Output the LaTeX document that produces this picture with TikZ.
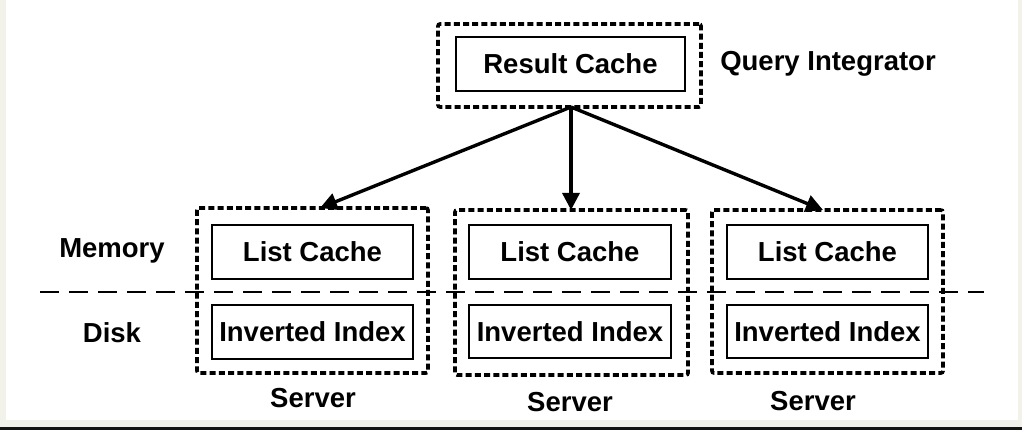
\documentclass[tikz,border=0pt]{standalone}
\usepackage{fontspec}
\setmainfont{Liberation Sans}
\usetikzlibrary{arrows.meta}
\definecolor{framebeige}{HTML}{F2F1EA}
\definecolor{barblack}{HTML}{141414}
\begin{document}
\begin{tikzpicture}[x=1pt,y=-1pt,
  lbl/.style={font=\fontsize{27.5}{30}\selectfont\bfseries, inner sep=0pt},
  solidbox/.style={draw, line width=2.5pt, inner sep=0pt, font=\fontsize{27.5}{30}\selectfont\bfseries},
  dotbox/.style={draw, line width=3.6pt, dash pattern=on 6pt off 3.2pt, inner sep=0pt, rounded corners=2pt},
  arr/.style={line width=3.4pt, -{Triangle[length=17pt,width=17pt]}},
  sep/.style={line width=2.2pt, dash pattern=on 19pt off 10pt}
]
% background and frame
\fill[framebeige] (0,0) rectangle (1022,430);
\fill[white] (6,0) rectangle (1018,420);
\fill[barblack] (0,426.5) rectangle (1022,430);
\useasboundingbox (0,0) rectangle (1022,430);

% separator line
\coordinate (sepL) at (40,292);
\coordinate (sepR) at (984,292);
\draw[sep] (sepL) -- (sepR);

% Query integrator
\node[dotbox, minimum width=263pt, minimum height=83pt] (rcouter) at (569.5,65.5) {};
\node[solidbox, minimum width=229pt, minimum height=54pt] (rc) at (570.5,64) {Result Cache};
\node[lbl] (qi) at (828,64) {Query Integrator};

% Server 1
\node[dotbox, minimum width=231pt, minimum height=165pt] (s1) at (312.5,290.5) {};
\node[solidbox, minimum width=201pt, minimum height=54pt] (lc1) at (312.5,252) {List Cache};
\node[solidbox, minimum width=201pt, minimum height=54pt] (ii1) at (312.5,332) {Inverted Index};
\node[lbl] (sv1) at (313,398) {Server};

% Server 2
\node[dotbox, minimum width=233pt, minimum height=165pt] (s2) at (571.5,292.5) {};
\node[solidbox, minimum width=202pt, minimum height=54pt] (lc2) at (570,252) {List Cache};
\node[solidbox, minimum width=202pt, minimum height=53pt] (ii2) at (570,331.5) {Inverted Index};
\node[lbl] (sv2) at (570,402) {Server};

% Server 3
\node[dotbox, minimum width=231pt, minimum height=163pt] (s3) at (827.5,291.5) {};
\node[solidbox, minimum width=201pt, minimum height=54pt] (lc3) at (827.5,252) {List Cache};
\node[solidbox, minimum width=201pt, minimum height=53pt] (ii3) at (827.5,331.5) {Inverted Index};
\node[lbl] (sv3) at (813,401) {Server};

% Memory / Disk labels
\node[lbl] (mem) at (112,251) {Memory};
\node[lbl] (disk) at (112,333) {Disk};

% arrows
\coordinate (src) at (571,107);
\coordinate (t1) at (320,208);
\coordinate (t2) at (571,210);
\coordinate (t3) at (823,210);
\draw[arr] (src) -- (t1);
\draw[arr] (src) -- (t2);
\draw[arr] (src) -- (t3);
\end{tikzpicture}
\end{document}
